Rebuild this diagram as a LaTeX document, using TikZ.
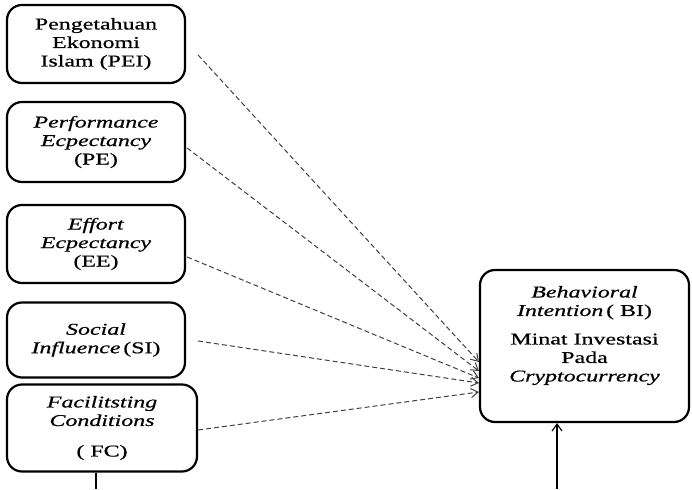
\documentclass[tikz,border=0pt]{standalone}
\usepackage{fontspec}
\setmainfont{Liberation Serif}[FakeStretch=1.45,FakeBold=0.6]
\usetikzlibrary{arrows.meta}
\begin{document}
\begin{tikzpicture}[x=1pt,y=1pt,
  box/.style={draw=black, line width=2.2pt, rounded corners=15pt, align=center,
    inner sep=0pt, font=\fontsize{16.5}{18.5}\selectfont},
  dasharrow/.style={draw=black!75, line width=1pt, dash pattern=on 5pt off 3pt,
    -{Straight Barb[length=7pt,width=9pt]}},
  solidline/.style={draw=black, line width=1.1pt}]
\useasboundingbox (0,0) rectangle (692,489);
\node[box, minimum width=178pt, minimum height=78pt] (pei) at (96,445)
  {Pengetahuan\\Ekonomi\\Islam (PEI)};
\node[box, minimum width=178pt, minimum height=80pt] (pe) at (96,347)
  {\textit{Performance}\\\textit{Ecpectancy}\\(PE)};
\node[box, minimum width=178pt, minimum height=78pt] (ee) at (96,245)
  {\textit{Effort}\\\textit{Ecpectancy}\\(EE)};
\node[box, minimum width=178pt, minimum height=75pt] (si) at (96,149)
  {\textit{Social}\\\textit{Influence}\,(SI)};
\node[box, minimum width=190pt, minimum height=87pt] (fc) at (102,61)
  {\textit{Facilitsting}\\\textit{Conditions}\\[12pt]( FC)};
\node[box, minimum width=209pt, minimum height=152pt] (bi) at (584.5,143)
  {\textit{Behavioral}\\\textit{Intention}\,( BI)\\[10pt]Minat Investasi\\Pada\\\textit{Cryptocurrency}\\[6pt]};
\coordinate (fcend) at (96,0);
\coordinate (biend) at (557,0);
\draw[dasharrow] ([shift={(12pt,-11pt)}]pei.east) -- ([yshift=-16pt]bi.west);
\draw[dasharrow] ([shift={(1pt,-6pt)}]pe.east) -- ([yshift=-25pt]bi.west);
\draw[dasharrow] ([shift={(1pt,-13pt)}]ee.east) -- ([yshift=-32pt]bi.west);
\draw[dasharrow] ([shift={(12pt,-1pt)}]si.east) -- ([yshift=-37pt]bi.west);
\draw[dasharrow] ([shift={(0pt,-2pt)}]fc.east) -- ([yshift=-46pt]bi.west);
\draw[solidline] ([xshift=-6pt]fc.south) -- (fcend);
\draw[solidline, -{Straight Barb[length=7pt,width=10pt]}] (biend) -- ([xshift=-27.5pt]bi.south);
\end{tikzpicture}
\end{document}
